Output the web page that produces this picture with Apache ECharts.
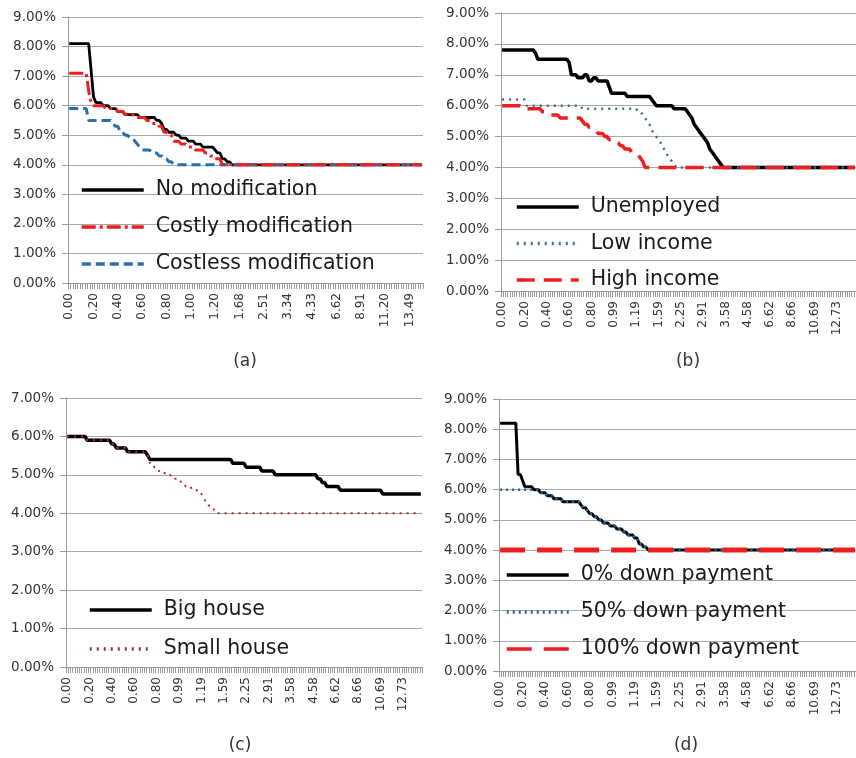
<!DOCTYPE html>
<html>
<head>
<meta charset="utf-8">
<script src="https://cdn.jsdelivr.net/npm/echarts@6/dist/echarts.min.js"></script>
<style>html,body{margin:0;padding:0;background:#fff}#c{width:856px;height:758px}</style>
</head>
<body>
<div id="c"></div>
<script>
// ---- tick labels (every 10th category) ----
const tickLabelsA = ['0.00','0.20','0.40','0.60','0.80','1.00','1.20','1.68','2.51','3.34','4.33','6.62','8.91','11.20','13.49'];
const tickLabelsBCD = ['0.00','0.20','0.40','0.60','0.80','0.99','1.19','1.59','2.25','2.91','3.58','4.58','6.62','8.66','10.69','12.73'];
const categoryCountA = 146;
const categoryCountBCD = 159;
const yTicksA = [0,1,2,3,4,5,6,7,8,9];
const yTicksC = [0,1,2,3,4,5,6,7];

// ---- series values, as [fromCategoryIndex, value %] steps ----
// (a)
const noModA = [[0,8.1],[9,7.2],[10,6.3],[11,6.1],[14,6.0],[17,5.9],[20,5.8],[23,5.7],[29,5.6],[36,5.5],[38,5.4],[39,5.2],[41,5.1],[44,5.0],[46,4.9],[49,4.8],[52,4.7],[55,4.6],[60,4.5],[61,4.4],[63,4.2],[65,4.1],[67,4.0]];
const costlyA = [[0,7.1],[8,6.5],[9,6.1],[10,6.0],[15,5.9],[20,5.8],[23,5.7],[27,5.6],[32,5.5],[34,5.4],[37,5.3],[39,5.1],[41,5.0],[43,4.8],[46,4.7],[49,4.6],[52,4.5],[56,4.4],[58,4.3],[60,4.2],[63,4.0]];
const costlessA = [[0,5.9],[8,5.5],[18,5.4],[19,5.3],[21,5.1],[23,5.0],[25,4.9],[27,4.8],[28,4.7],[29,4.6],[30,4.5],[34,4.4],[37,4.3],[39,4.2],[41,4.1],[43,4.0]];
// (b)
const unemployedB = [[0,7.8],[15,7.7],[16,7.5],[30,7.4],[31,7.0],[34,6.9],[37,7.0],[39,6.8],[41,6.9],[43,6.8],[48,6.6],[49,6.4],[56,6.3],[67,6.2],[68,6.1],[69,6.0],[77,5.9],[83,5.8],[84,5.7],[85,5.6],[86,5.4],[87,5.3],[88,5.2],[89,5.1],[90,5.0],[91,4.9],[92,4.8],[93,4.6],[94,4.5],[95,4.4],[96,4.3],[97,4.2],[98,4.1],[99,4.0]];
const lowIncomeB = [[0,6.2],[11,6.0],[36,5.9],[61,5.8],[63,5.7],[64,5.6],[65,5.5],[66,5.4],[67,5.2],[68,5.1],[69,5.0],[70,4.9],[71,4.8],[72,4.7],[73,4.5],[74,4.4],[75,4.3],[76,4.2],[77,4.1],[78,4.0]];
const highIncomeB = [[0,6.0],[9,5.9],[18,5.8],[21,5.7],[26,5.6],[36,5.5],[37,5.4],[39,5.3],[41,5.2],[43,5.1],[46,5.0],[48,4.9],[50,4.8],[53,4.7],[55,4.6],[58,4.5],[60,4.4],[62,4.3],[63,4.2],[64,4.0]];
// (c)
const bigHouseC = [[0,6.0],[9,5.9],[20,5.8],[22,5.7],[27,5.6],[36,5.5],[37,5.4],[74,5.3],[80,5.2],[87,5.1],[93,5.0],[112,4.9],[114,4.8],[116,4.7],[122,4.6],[141,4.5]];
const smallHouseC = [[0,6.0],[9,5.9],[20,5.8],[22,5.7],[27,5.6],[36,5.5],[37,5.3],[39,5.2],[41,5.1],[44,5.0],[47,4.9],[51,4.8],[53,4.7],[56,4.6],[60,4.5],[61,4.4],[62,4.3],[63,4.2],[65,4.1],[67,4.0]];
// (d)
const down0D = [[0,8.2],[8,6.5],[10,6.3],[11,6.1],[15,6.0],[18,5.9],[21,5.8],[24,5.7],[28,5.6],[36,5.5],[37,5.4],[39,5.3],[40,5.2],[42,5.1],[44,5.0],[46,4.9],[49,4.8],[52,4.7],[55,4.6],[57,4.5],[60,4.4],[62,4.2],[64,4.1],[66,4.0]];
const down50D = [[0,6.0],[18,5.9],[21,5.8],[24,5.7],[28,5.6],[36,5.5],[37,5.4],[39,5.3],[40,5.2],[42,5.1],[44,5.0],[46,4.9],[49,4.8],[52,4.7],[55,4.6],[57,4.5],[60,4.4],[62,4.2],[64,4.1],[66,4.0]];
const down100D = [[0,4.0]];

// ---- helpers ----
function buildCategories(ticks, n) {
  const out = [];
  for (let i = 0; i < n; i++) {
    const k = Math.floor(i / 10), j = i % 10;
    out.push(j === 0 ? ticks[k] : ticks[k] + '+' + j);
  }
  return out;
}
function expand(steps, n) {
  const out = [];
  let b = 0;
  for (let i = 0; i < n; i++) {
    while (b + 1 < steps.length && steps[b + 1][0] <= i) b++;
    out.push(steps[b][1]);
  }
  return out;
}

const catsA = buildCategories(tickLabelsA, categoryCountA);
const catsBCD = buildCategories(tickLabelsBCD, categoryCountBCD);

const FONT = 'DejaVu Sans';
const grids = [
  {left: 68, top: 17, width: 355, height: 266},
  {left: 501, top: 13, width: 355, height: 278},
  {left: 66, top: 398, width: 356, height: 269},
  {left: 499, top: 399, width: 357, height: 272}
];

function xAxis(idx, cats) {
  return {
    type: 'category', gridIndex: idx, data: cats, boundaryGap: true,
    axisLine: {show: true, lineStyle: {color: '#9a9a9a', width: 1}},
    axisTick: {show: true, interval: 0, length: 6, lineStyle: {color: '#9a9a9a', width: 1}},
    axisLabel: {interval: 9, rotate: 90, margin: 10, fontFamily: FONT, fontSize: 12, color: '#333333'},
    splitLine: {show: false}
  };
}
function yAxis(idx, ticks) {
  return {
    type: 'value', gridIndex: idx, min: ticks[0], max: ticks[ticks.length - 1], interval: 1,
    axisLine: {show: true, lineStyle: {color: '#9a9a9a', width: 1}},
    axisTick: {show: true, length: 6, lineStyle: {color: '#9a9a9a'}},
    axisLabel: {margin: 12, fontFamily: FONT, fontSize: 13.5, color: '#333333', formatter: v => v.toFixed(2) + '%'},
    splitLine: {show: true, lineStyle: {color: '#a8a8a8', width: 1}}
  };
}
function line(name, idx, steps, n, color, width, type, z) {
  return {
    name, type: 'line', xAxisIndex: idx, yAxisIndex: idx,
    data: expand(steps, n), symbol: 'none', z: z, silent: true, animation: false,
    lineStyle: {color, width, type}, itemStyle: {color}
  };
}
function legend(names, left, top, gap) {
  return {
    data: names, orient: 'vertical', left, top, itemWidth: 62, itemHeight: 14, itemGap: gap,
    selectedMode: false,
    itemStyle: {opacity: 0, borderWidth: 0},
    lineStyle: {width: 3.5},
    textStyle: {fontFamily: FONT, fontSize: 20.5, color: '#1a1a1a', lineHeight: 22, padding: [0, 0, 0, 7]}
  };
}

const RED = '#f01e1e';
const option = {
  animation: false,
  backgroundColor: '#ffffff',
  grid: grids,
  xAxis: [xAxis(0, catsA), xAxis(1, catsBCD), xAxis(2, catsBCD), xAxis(3, catsBCD)],
  yAxis: [yAxis(0, yTicksA), yAxis(1, yTicksA), yAxis(2, yTicksC), yAxis(3, yTicksA)],
  legend: [
    legend(['No modification', 'Costly modification', 'Costless modification'], 75, 174, 15),
    legend(['Unemployed', 'Low income', 'High income'], 510, 191, 14.5),
    legend(['Big house', 'Small house'], 83, 594, 17),
    legend(['0% down payment', '50% down payment', '100% down payment'], 500, 559, 15)
  ],
  series: [
    line('No modification', 0, noModA, categoryCountA, '#000000', 2.8, 'solid', 2),
    line('Costless modification', 0, costlessA, categoryCountA, '#2a6fa8', 3, [9, 5], 3),
    line('Costly modification', 0, costlyA, categoryCountA, RED, 3, [14, 4, 3, 4], 4),

    line('Unemployed', 1, unemployedB, categoryCountBCD, '#000000', 3.5, 'solid', 2),
    line('Low income', 1, lowIncomeB, categoryCountBCD, '#3c6e96', 2.5, [2, 5], 3),
    line('High income', 1, highIncomeB, categoryCountBCD, RED, 3.5, [18, 9], 4),

    line('Big house', 2, bigHouseC, categoryCountBCD, '#000000', 3.5, 'solid', 2),
    line('Small house', 2, smallHouseC, categoryCountBCD, '#b02a2a', 2, [2, 5], 3),

    line('0% down payment', 3, down0D, categoryCountBCD, '#000000', 3, 'solid', 2),
    line('50% down payment', 3, down50D, categoryCountBCD, '#2f6690', 2.5, [2, 4], 3),
    line('100% down payment', 3, down100D, categoryCountBCD, RED, 5, [25, 12], 4)
  ],
  graphic: [
    {type: 'text', x: 245, y: 362, style: {text: '(a)', font: '17px "DejaVu Sans"', fill: '#333', align: 'center', verticalAlign: 'middle'}},
    {type: 'text', x: 688, y: 362, style: {text: '(b)', font: '17px "DejaVu Sans"', fill: '#333', align: 'center', verticalAlign: 'middle'}},
    {type: 'text', x: 240, y: 746, style: {text: '(c)', font: '17px "DejaVu Sans"', fill: '#333', align: 'center', verticalAlign: 'middle'}},
    {type: 'text', x: 686, y: 746, style: {text: '(d)', font: '17px "DejaVu Sans"', fill: '#333', align: 'center', verticalAlign: 'middle'}}
  ]
};
const chart = echarts.init(document.getElementById('c'), null, {renderer: 'canvas'});
chart.setOption(option);
</script>
</body>
</html>
